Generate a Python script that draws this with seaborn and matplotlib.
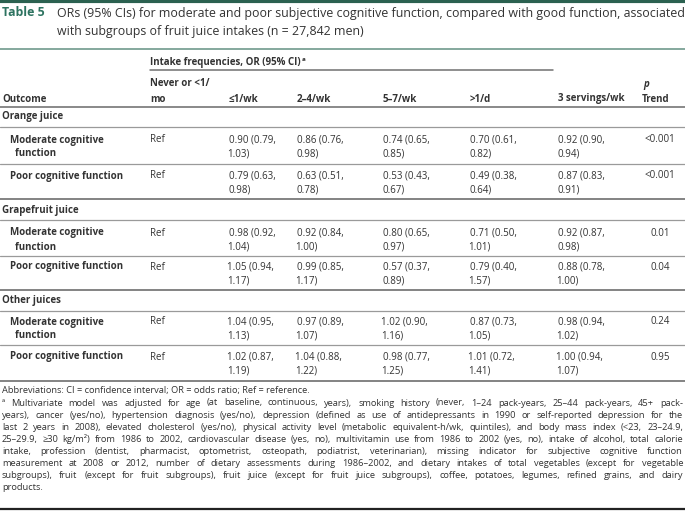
import matplotlib
matplotlib.use("Agg")
import matplotlib.pyplot as plt
import seaborn as sns

sns.set_style("white")
plt.rcParams['font.family'] = ['Open Sans', 'DejaVu Sans']

# table content
col_heads = ["Never or <1/\nmo", "≤1/wk", "2–4/wk", "5–7/wk", ">1/d", "3 servings/wk"]
groups = ["Orange juice", "Grapefruit juice", "Other juices"]
outcomes = ["Moderate cognitive\n  function", "Poor cognitive function"]

orange_moderate = ["Ref", "0.90 (0.79, 1.03)", "0.86 (0.76, 0.98)", "0.74 (0.65, 0.85)", "0.70 (0.61, 0.82)", "0.92 (0.90, 0.94)"]
orange_poor = ["Ref", "0.79 (0.63, 0.98)", "0.63 (0.51, 0.78)", "0.53 (0.43, 0.67)", "0.49 (0.38, 0.64)", "0.87 (0.83, 0.91)"]
grapefruit_moderate = ["Ref", "0.98 (0.92, 1.04)", "0.92 (0.84, 1.00)", "0.80 (0.65, 0.97)", "0.71 (0.50, 1.01)", "0.92 (0.87, 0.98)"]
grapefruit_poor = ["Ref", "1.05 (0.94, 1.17)", "0.99 (0.85, 1.17)", "0.57 (0.37, 0.89)", "0.79 (0.40, 1.57)", "0.88 (0.78, 1.00)"]
other_moderate = ["Ref", "1.04 (0.95, 1.13)", "0.97 (0.89, 1.07)", "1.02 (0.90, 1.16)", "0.87 (0.73, 1.05)", "0.98 (0.94, 1.02)"]
other_poor = ["Ref", "1.02 (0.87, 1.19)", "1.04 (0.88, 1.22)", "0.98 (0.77, 1.25)", "1.01 (0.72, 1.41)", "1.00 (0.94, 1.07)"]
p_trend = ["<0.001", "<0.001", "0.01", "0.04", "0.24", "0.95"]

rows = [orange_moderate, orange_poor, grapefruit_moderate, grapefruit_poor, other_moderate, other_poor]

footnote = [
    "ª Multivariate model was adjusted for age (at baseline, continuous, years), smoking history (never, 1–24 pack-years, 25–44 pack-years, 45+ pack-",
    "years), cancer (yes/no), hypertension diagnosis (yes/no), depression (defined as use of antidepressants in 1990 or self-reported depression for the",
    "last 2 years in 2008), elevated cholesterol (yes/no), physical activity level (metabolic equivalent-h/wk, quintiles), and body mass index (<23, 23–24.9,",
    "25–29.9, ≥30 kg/m²) from 1986 to 2002, cardiovascular disease (yes, no), multivitamin use from 1986 to 2002 (yes, no), intake of alcohol, total calorie",
    "intake, profession (dentist, pharmacist, optometrist, osteopath, podiatrist, veterinarian), missing indicator for subjective cognitive function",
    "measurement at 2008 or 2012, number of dietary assessments during 1986–2002, and dietary intakes of total vegetables (except for vegetable",
    "subgroups), fruit (except for fruit subgroups), fruit juice (except for fruit juice subgroups), coffee, potatoes, legumes, refined grains, and dairy",
    "products.",
]

W, H = 685, 511
fig = plt.figure(figsize=(W / 100, H / 100), dpi=100)
ax = fig.add_axes([0, 0, 1, 1])
ax.set_xlim(0, W)
ax.set_ylim(H, 0)
ax.axis("off")
renderer = fig.canvas.get_renderer()

txt = "#333333"
green = "#2d7360"
fs = 7

# top bar and title
ax.axhline(1.5, color="#2b6150", lw=3)
ax.text(2, 13, "Table 5", color=green, fontsize=8.9, fontweight="bold", va="center")
ax.text(57, 13, "ORs (95% CIs) for moderate and poor subjective cognitive function, compared with good function, associated",
        color=txt, fontsize=8.9, va="center")
ax.text(57, 31, "with subgroups of fruit juice intakes (n = 27,842 men)", color=txt, fontsize=8.9, va="center")
ax.plot([0, W], [49, 49], color="#6f9a8c", lw=1.2)

# header
col_x = [150, 229, 297, 383, 470, 558]
hd = ax.text(150, 63, "Intake frequencies, OR (95% CI)", color=txt, fontsize=fs, fontweight="bold", va="center")
hx = hd.get_window_extent(renderer).x1
ax.text(hx + 1, 59.5, "a", color=txt, fontsize=4.5, fontweight="bold", va="center")
ax.plot([150, 553], [70.5, 70.5], color="#707070", lw=1.1)
ax.text(2, 99, "Outcome", color=txt, fontsize=fs, fontweight="bold", va="center")
for x, h in zip(col_x, col_heads):
    if "\n" in h:
        a, b = h.split("\n")
        ax.text(x, 84, a, color=txt, fontsize=fs, fontweight="bold", va="center")
        ax.text(x, 99, b, color=txt, fontsize=fs, fontweight="bold", va="center")
    else:
        ax.text(x, 99, h, color=txt, fontsize=fs, fontweight="bold", va="center")
ax.text(643, 84, "p", color=txt, fontsize=fs, fontweight="bold", style="italic", va="center")
ax.text(642, 99, "Trend", color=txt, fontsize=fs, fontweight="bold", va="center")
ax.plot([0, W], [107, 107], color="#6a6a6a", lw=1.1)

# body
group_y = [117, 211, 301]
row_y = [[140, 176], [233, 267], [322, 357]]
sep_y = [[127, 164, 199], [220, 256, 290], [311, 345, 381]]
for g, name in enumerate(groups):
    ax.text(2, group_y[g], name, color=txt, fontsize=fs, fontweight="bold", va="center")
    for k, y in enumerate(row_y[g]):
        r = rows[2 * g + k]
        lab = outcomes[k].split("\n")
        ax.text(10, y, lab[0], color=txt, fontsize=fs, fontweight="bold", va="center")
        if len(lab) > 1:
            ax.text(10, y + 14, lab[1], color=txt, fontsize=fs, fontweight="bold", va="center")
        for x, v in zip(col_x, r):
            if ", " in v:
                a, b = v.split(", ")
                # the "1" glyph has a wide left bearing
                xa = x - 1.5 if a.startswith("1") else x
                xb = x - 1.5 if b.startswith("1") else x
                ax.text(xa, y, a + ",", color=txt, fontsize=fs, va="center")
                ax.text(xb, y + 14, b, color=txt, fontsize=fs, va="center")
            else:
                ax.text(x, y, v, color=txt, fontsize=fs, va="center")
        ax.text(660, y, p_trend[2 * g + k], color=txt, fontsize=fs, va="center", ha="center")
    for j, y in enumerate(sep_y[g]):
        if j == 2:
            ax.plot([0, W], [y, y], color="#7a7a7a", lw=1.3)
        else:
            ax.plot([0, W], [y, y], color="#9a9a9a", lw=0.9)

# footnotes
ffs = 6.7


def justify(line, y, x0=2, x1=683):
    words = line.split(" ")
    ts = [ax.text(x0, y, w, color=txt, fontsize=ffs, va="center") for w in words]
    widths = [t.get_window_extent(renderer).width for t in ts]
    gap = (x1 - x0 - sum(widths)) / max(len(words) - 1, 1)
    x = x0
    for t, w in zip(ts, widths):
        t.set_x(x)
        x += w + gap


ax.text(2, 391, "Abbreviations: CI = confidence interval; OR = odds ratio; Ref = reference.",
        color=txt, fontsize=ffs, va="center")
for i, line in enumerate(footnote):
    y = 403 + i * 12.1
    if i == len(footnote) - 1:
        ax.text(2, y, line, color=txt, fontsize=ffs, va="center")
    else:
        justify(line, y)

ax.plot([0, W], [509, 509], color="#222222", lw=1.6)

fig.savefig("out.png", dpi=100)
